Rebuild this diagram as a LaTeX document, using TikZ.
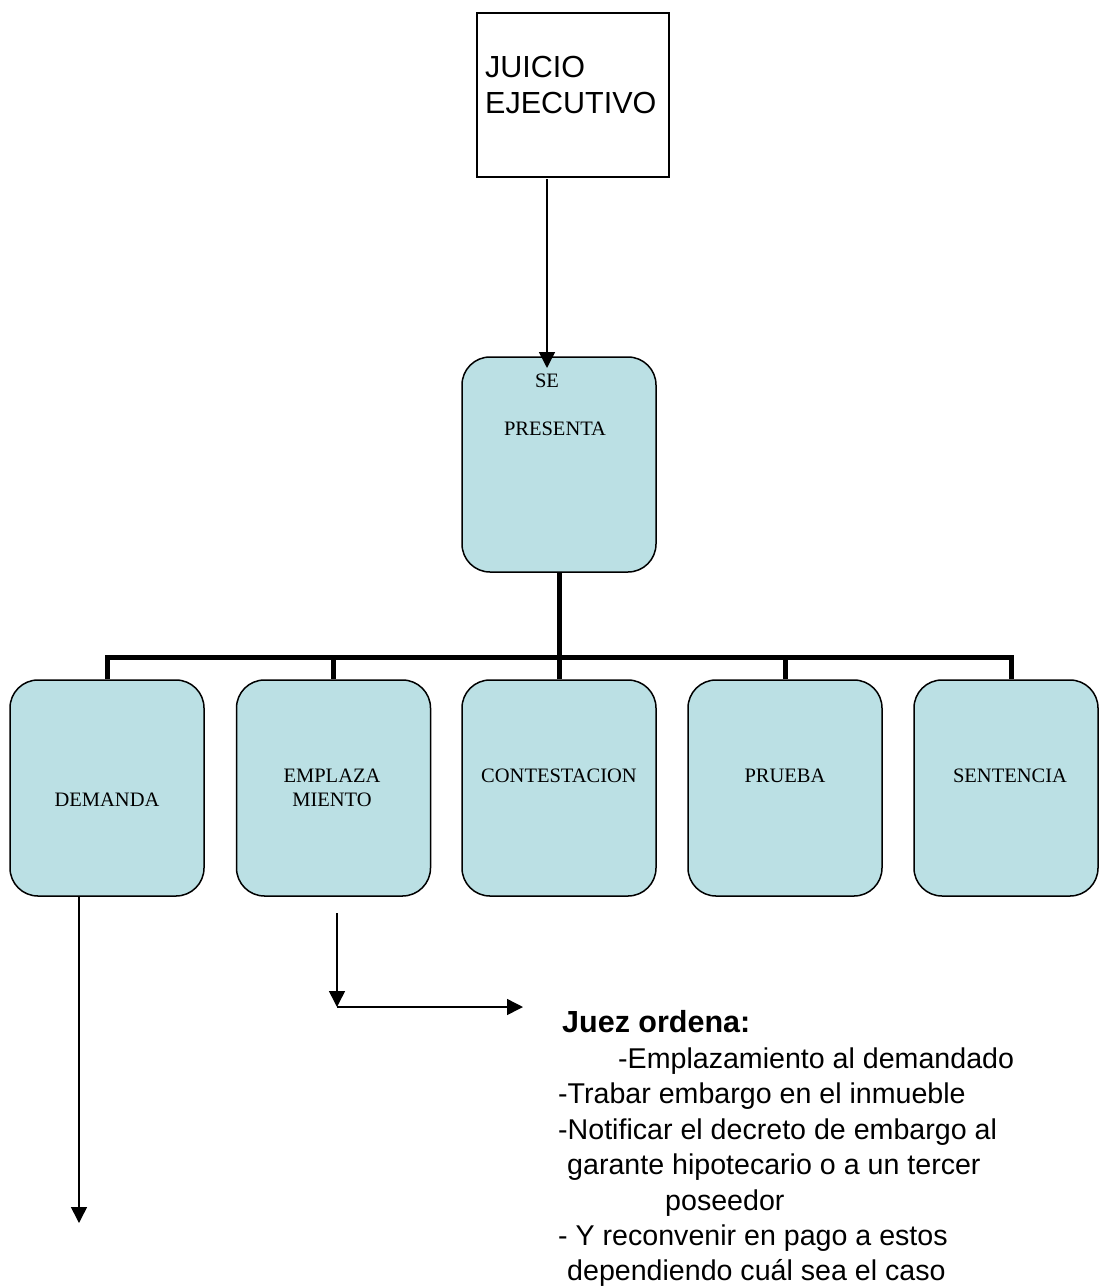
\documentclass[tikz,border=0pt]{standalone}
\usepackage{fontspec}
\setmainfont{Liberation Serif}
\newfontfamily\arialf{Liberation Sans}
\usetikzlibrary{arrows.meta}
\definecolor{boxfill}{RGB}{187,224,228}
\begin{document}
\begin{tikzpicture}[x=1pt,y=-1pt,
  rbox/.style={draw, line width=1.5pt, fill=boxfill, rounded corners=28pt,
    minimum width=194pt, minimum height=216pt, inner sep=0pt},
  sqbox/.style={draw, line width=2pt, minimum width=192pt, minimum height=164pt, inner sep=0pt},
  btext/.style={font=\fontsize{20.5}{24}\selectfont, anchor=base, inner sep=0pt},
  ttext/.style={font=\arialf\fontsize{30.5}{36}\selectfont, anchor=base west, inner sep=0pt},
  jtext/.style={font=\arialf\fontsize{28.6}{35}\selectfont, anchor=base west, inner sep=0pt},
  bus/.style={line width=5pt, line join=miter},
  arr/.style={line width=1.5pt, -{Triangle[length=16pt,width=16pt]}}
]
\useasboundingbox (0,0) rectangle (1098,1288);

% top box
\node[sqbox] (top) at (573,95) {};
\node[ttext] (t1) at (485,77) {JUICIO};
\node[ttext] (t2) at (485,113) {EJECUTIVO};

% se presenta
\node[rbox, minimum height=215pt] (pres) at (559,464.5) {};
\node[btext] (p1) at (547,387) {SE};
\node[btext] (p2) at (555,435) {PRESENTA};

\coordinate (topS) at (547,179);
\coordinate (presIn) at (547,368);
\draw[arr] (topS) -- (presIn);

% children
\node[rbox] (dem) at (107,788) {};
\node[rbox] (emp) at (333.5,788) {};
\node[rbox] (con) at (559,788) {};
\node[rbox] (pru) at (785,788) {};
\node[rbox, minimum width=184pt] (sen) at (1006,788) {};

\node[btext] (dt) at (107,806) {DEMANDA};
\node[btext] (et1) at (332,782) {EMPLAZA};
\node[btext] (et2) at (332,806) {MIENTO};
\node[btext] (ct) at (559,782) {CONTESTACION};
\node[btext] (pt) at (785,782) {PRUEBA};
\node[btext] (st) at (1010,782) {SENTENCIA};

% bus
\coordinate (busL) at (107,657);
\coordinate (busR) at (1011,657);
\draw[bus] (dem.north) -- (busL) -- (busR) -- (sen.north -| busR);
\draw[bus] (pres.south) -- (pres.south |- busL);
\draw[bus] (emp.north) -- (emp.north |- busL);
\draw[bus] (con.north) -- (con.north |- busL);
\draw[bus] (pru.north) -- (pru.north |- busL);

% arrows below
\coordinate (demA) at (79,1223);
\draw[arr] (dem.south -| demA) -- (demA);
\coordinate (empS) at (337,913);
\coordinate (empC) at (337,1007);
\coordinate (empR) at (523,1007);
\draw[arr] (empS) -- (empC);
\draw[arr] (empC) -- (empR);

% text block
\node[jtext, font=\arialf\bfseries\fontsize{30.5}{35}\selectfont] (j1) at (562,1032) {Juez ordena:};
\node[jtext] (j2) at (618,1068) {-Emplazamiento al demandado};
\node[jtext] (j3) at (558,1103) {-Trabar embargo en el inmueble};
\node[jtext] (j4) at (558,1139) {-Notificar el decreto de embargo al};
\node[jtext] (j5) at (567,1174) {garante hipotecario o a un tercer};
\node[jtext] (j6) at (665,1210) {poseedor};
\node[jtext] (j7) at (558,1245) {- Y reconvenir en pago a estos};
\node[jtext] (j8) at (567,1280) {dependiendo cuál sea el caso};
\end{tikzpicture}
\end{document}
